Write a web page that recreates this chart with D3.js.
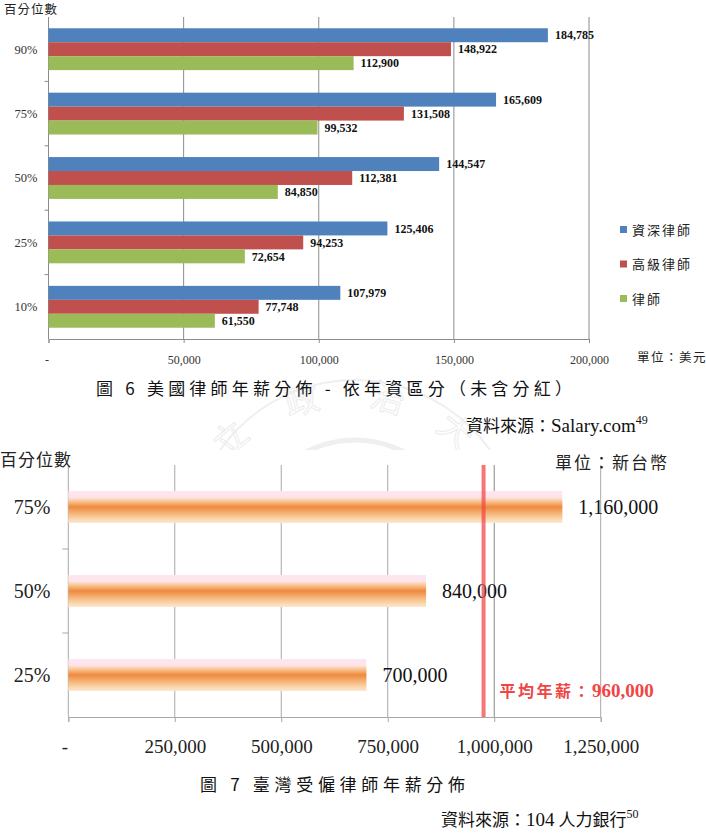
<!DOCTYPE html>
<html><head><meta charset="utf-8">
<script src="https://cdn.jsdelivr.net/npm/d3@7/dist/d3.min.js"></script>
<style>body{margin:0;background:#fff}svg{display:block}</style>
</head><body>
<svg id="c" width="706" height="835"></svg>
<script>
// ---------- Chart 1 data (USD) ----------
const usPercentiles = ["90%", "75%", "50%", "25%", "10%"];
const usSeriesNames = ["資深律師", "高級律師", "律師"];
const usSenior = [184785, 165609, 144547, 125406, 107979];
const usMid    = [148922, 131508, 112381, 94253, 77748];
const usJunior = [112900, 99532, 84850, 72654, 61550];
const usTicks = [0, 50000, 100000, 150000, 200000];
const usColors = ["#4F81BD", "#C0504D", "#9BBB59"];

// ---------- Chart 2 data (NTD) ----------
const twPercentiles = ["75%", "50%", "25%"];
const twValues = [1160000, 840000, 700000];
const twTicks = [0, 250000, 500000, 750000, 1000000, 1250000];
const twAvgLabel = 960000;      // stated mean
const twAvgLineAt = 975000;     // where the red marker line is drawn in the picture

const fmt = d3.format(",");
const tickFmt = d => d === 0 ? "-" : fmt(d);
const SERIF = "'Liberation Serif','Times New Roman',serif";
const CJK = "'Noto Sans CJK TC','Noto Sans CJK SC',sans-serif";

const svg = d3.select("#c");
svg.append("rect").attr("width",706).attr("height",835).attr("fill","#fff");

// ---------- faint watermark ----------
const defs = svg.append("defs");
defs.append("clipPath").attr("id","wmclip").append("rect").attr("x",0).attr("y",372).attr("width",706).attr("height",78);
const wm = svg.append("g").attr("clip-path","url(#wmclip)").attr("opacity",0.4);
wm.append("circle").attr("cx",355).attr("cy",545).attr("r",165).attr("fill","none").attr("stroke","#d8d8d8").attr("stroke-width",2);
wm.append("circle").attr("cx",355).attr("cy",545).attr("r",105).attr("fill","none").attr("stroke","#d8d8d8").attr("stroke-width",5);
[["立",238,448,-40],["政",305,412,-15],["治",385,410,15],["大",448,440,40]].forEach(([t,x,y,r])=>{
  wm.append("text").attr("x",x).attr("y",y).attr("transform",`rotate(${r},${x},${y})`)
    .attr("font-family",CJK).attr("font-size",34).attr("fill","none").attr("stroke","#d0d0d0").attr("stroke-width",1).attr("text-anchor","middle").text(t);
});

// ================= Chart 1 =================
const x1 = d3.scaleLinear().domain([0, 200000]).range([48.5, 589]);
const y1 = d3.scaleBand().domain(usPercentiles).range([17, 339]).paddingInner(0.35).paddingOuter(0.175);
const y1in = d3.scaleBand().domain(usSeriesNames).range([0, y1.bandwidth()]);
const usRows = usPercentiles.map((p, i) => ({p, vals: [usSenior[i], usMid[i], usJunior[i]]}));

const g1 = svg.append("g");
g1.selectAll(".grid").data(usTicks.slice(1)).join("line")
  .attr("x1", d => x1(d)).attr("x2", d => x1(d)).attr("y1", 17).attr("y2", 339)
  .attr("stroke", "#8c8c8c").attr("stroke-width", 1);
const ax1 = g1.append("g").attr("transform","translate(0,339)")
  .call(d3.axisBottom(x1).tickValues(usTicks).tickFormat(tickFmt).tickSize(4).tickPadding(12));
ax1.select(".domain").attr("stroke","#8c8c8c");
ax1.selectAll(".tick line").attr("stroke","#8c8c8c");
ax1.selectAll("text").attr("font-family",SERIF).attr("font-size",12).attr("fill","#333");
ax1.selectAll(".tick").filter(d=>d===0).select("text").attr("dx",-2);
const ax1y = g1.append("g").attr("transform",`translate(${x1(0)},0)`);
ax1y.append("line").attr("y1",17).attr("y2",339).attr("stroke","#8c8c8c");
const bounds1 = d3.range(1, usPercentiles.length).map(i => 17 + i * y1.step());
ax1y.selectAll(".tk").data(bounds1).join("line").attr("x1",-4).attr("x2",0)
  .attr("y1",d=>d).attr("y2",d=>d).attr("stroke","#8c8c8c");
ax1y.selectAll(".lab").data(usPercentiles).join("text")
  .attr("x",-11).attr("y",d=>y1(d)+y1.bandwidth()/2).attr("dy","0.35em")
  .attr("text-anchor","end").attr("font-family",SERIF).attr("font-size",12.5).attr("fill","#333").text(d=>d);
const grp1 = g1.selectAll(".grp").data(usRows).join("g").attr("transform", d => `translate(0,${y1(d.p)})`);
grp1.selectAll("rect").data(d => d.vals.map((v, j) => ({v, s: usSeriesNames[j], j}))).join("rect")
  .attr("x", x1(0)).attr("y", d => y1in(d.s)).attr("width", d => x1(d.v) - x1(0)).attr("height", y1in.bandwidth())
  .attr("fill", d => usColors[d.j]);
grp1.selectAll("text").data(d => d.vals.map((v, j) => ({v, s: usSeriesNames[j], j}))).join("text")
  .attr("x", d => x1(d.v) + 7).attr("y", d => y1in(d.s) + y1in.bandwidth()/2).attr("dy","0.35em")
  .attr("font-family",SERIF).attr("font-weight","bold").attr("font-size",12).attr("fill","#111").text(d => fmt(d.v));
g1.append("text").attr("x",4).attr("y",14).attr("font-family",CJK).attr("font-size",12.5).attr("fill","#222").attr("letter-spacing",1).text("百分位數");
g1.append("text").attr("x",637).attr("y",362).attr("font-family",CJK).attr("font-size",12.5).attr("fill","#222").attr("letter-spacing",1.5).text("單位：美元");
const lg = g1.selectAll(".lg").data(usSeriesNames).join("g").attr("transform",(d,i)=>`translate(620,${230 + i*34.5})`);
lg.append("rect").attr("x",0).attr("y",-4).attr("width",7).attr("height",7).attr("fill",(d,i)=>usColors[i]);
lg.append("text").attr("x",12).attr("y",0).attr("dy","0.38em").attr("font-family",CJK).attr("font-size",13).attr("fill","#222").attr("letter-spacing",2).text(d=>d);

svg.append("text").attr("x",96).attr("y",395).attr("font-family",CJK).attr("font-size",17).attr("fill","#111")
  .attr("textLength",476).attr("lengthAdjust","spacing").text("圖 6  美國律師年薪分佈 - 依年資區分（未含分紅）");
const s1 = svg.append("text").attr("x",466).attr("y",432).attr("fill","#111");
s1.append("tspan").attr("font-family",CJK).attr("font-size",17).text("資料來源：");
s1.append("tspan").attr("font-family",SERIF).attr("font-size",19).text("Salary.com");
s1.append("tspan").attr("font-family",SERIF).attr("font-size",12).attr("dy",-8).text("49");

// ================= Chart 2 =================
const x2 = d3.scaleLinear().domain([0, 1250000]).range([68.3, 600.7]);
const y2 = d3.scaleBand().domain(twPercentiles).range([465, 717]).paddingInner(0.62).paddingOuter(0.31);
const g2 = svg.append("g");

const grad = defs.append("linearGradient").attr("id","barGrad").attr("x1",0).attr("y1",0).attr("x2",0).attr("y2",1);
[[0,"#fde6ef"],[0.2,"#fde3ec"],[0.28,"#fbd2a6"],[0.5,"#ee8a3e"],[0.72,"#f6b87e"],[0.88,"#fad6ae"],[1,"#fde7d2"]]
  .forEach(([o,c])=>grad.append("stop").attr("offset",o).attr("stop-color",c));

g2.selectAll(".grid").data(twTicks.slice(1)).join("line")
  .attr("x1", d => x2(d)).attr("x2", d => x2(d)).attr("y1", 465).attr("y2", 717)
  .attr("stroke", d => d === 1000000 ? "#8a8a8a" : "#a8a8a8").attr("stroke-width", 1);
const ax2 = g2.append("g").attr("transform","translate(0,717)")
  .call(d3.axisBottom(x2).tickValues(twTicks).tickFormat(tickFmt).tickSize(5).tickPadding(18));
ax2.select(".domain").attr("stroke","#a8a8a8");
ax2.selectAll(".tick line").attr("stroke","#a8a8a8");
ax2.selectAll("text").attr("font-family",SERIF).attr("font-size",19).attr("fill","#222");
ax2.selectAll(".tick").filter(d=>d===0).select("text").attr("dx",-4);
const ax2y = g2.append("g").attr("transform",`translate(${x2(0)},0)`);
ax2y.append("line").attr("y1",465).attr("y2",717).attr("stroke","#a8a8a8");
const bounds2 = d3.range(1, twPercentiles.length).map(i => 465 + i * y2.step());
ax2y.selectAll(".tk").data(bounds2).join("line").attr("x1",-6).attr("x2",0)
  .attr("y1",d=>d).attr("y2",d=>d).attr("stroke","#a8a8a8");
ax2y.selectAll(".lab").data(twPercentiles).join("text")
  .attr("x",-18).attr("y",d=>y2(d)+y2.bandwidth()/2).attr("dy","0.35em")
  .attr("text-anchor","end").attr("font-family",SERIF).attr("font-size",20).attr("fill","#222").text(d=>d);

const twRows = twPercentiles.map((p,i)=>({p, v: twValues[i]}));
g2.selectAll(".bar").data(twRows).join("rect")
  .attr("x", x2(0)).attr("y", d => y2(d.p)).attr("width", d => x2(d.v) - x2(0)).attr("height", y2.bandwidth())
  .attr("fill","url(#barGrad)");
g2.selectAll(".vl").data(twRows).join("text")
  .attr("x", d => x2(d.v) + 16).attr("y", d => y2(d.p) + y2.bandwidth()/2).attr("dy","0.35em")
  .attr("font-family",SERIF).attr("font-size",20).attr("fill","#111").text(d => fmt(d.v));
g2.append("line").attr("x1",x2(twAvgLineAt)).attr("x2",x2(twAvgLineAt)).attr("y1",465).attr("y2",717)
  .attr("stroke","#f04848").attr("stroke-opacity",0.75).attr("stroke-width",4);
const av = g2.append("text").attr("x", x2(twAvgLineAt) + 16).attr("y", 697).attr("fill","#f04545").attr("font-weight","bold");
av.append("tspan").attr("font-family",CJK).attr("font-size",16).attr("letter-spacing",2.5).text("平均年薪：");
av.append("tspan").attr("font-family",SERIF).attr("font-size",19).text(fmt(twAvgLabel));

g2.append("text").attr("x",0).attr("y",466).attr("font-family",CJK).attr("font-size",17).attr("fill","#222").attr("letter-spacing",1).text("百分位數");
g2.append("text").attr("x",555).attr("y",469).attr("font-family",CJK).attr("font-size",17).attr("fill","#222").attr("letter-spacing",2).text("單位：新台幣");

svg.append("text").attr("x",200).attr("y",791).attr("font-family",CJK).attr("font-size",17).attr("fill","#111")
  .attr("textLength",265).attr("lengthAdjust","spacing").text("圖 7  臺灣受僱律師年薪分佈");
const s2 = svg.append("text").attr("x",441).attr("y",826).attr("fill","#111");
s2.append("tspan").attr("font-family",CJK).attr("font-size",17).text("資料來源：");
s2.append("tspan").attr("font-family",SERIF).attr("font-size",19).text("104");
s2.append("tspan").attr("font-family",CJK).attr("font-size",17).attr("dx",4).text("人力銀行");
s2.append("tspan").attr("font-family",SERIF).attr("font-size",12).attr("dy",-8).text("50");
</script>
</body></html>
